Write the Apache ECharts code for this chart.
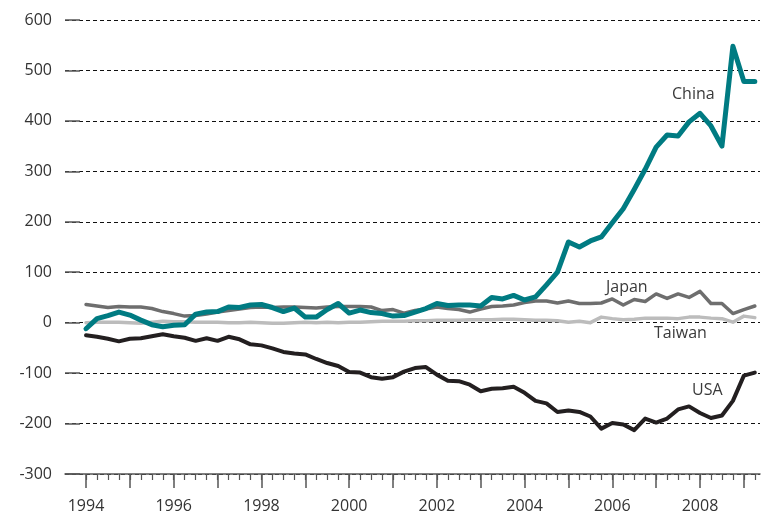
<!DOCTYPE html>
<html>
<head>
<meta charset="utf-8">
<script src="https://cdn.jsdelivr.net/npm/echarts@6/dist/echarts.min.js"></script>
<style>
  html, body { margin: 0; padding: 0; background: #fff; }
  #chart { width: 770px; height: 518px; }
</style>
</head>
<body>
<div id="chart"></div>
<script>
// quarterly, 1994 Q1 .. 2009 Q2
const startYear = 1994;

const china = [-12, 8, 14, 21, 15, 5, -4, -8, -5, -4, 17, 21, 22, 31, 30, 35,
    36, 30, 22, 29, 11, 11, 26, 38, 19, 25, 20, 18, 13, 14, 21, 28,
    38, 34, 35, 35, 33, 50, 47, 54, 45, 51, 75, 100, 160, 150, 162, 170,
    198, 226, 264, 304, 348, 372, 370, 398, 415, 390, 350, 548, 478, 478];

const japan = [36, 33, 30, 32, 31, 31, 28, 22, 18, 13, 14, 17, 21, 24, 27, 30,
    31, 30, 31, 31, 30, 29, 31, 32, 32, 32, 31, 24, 26, 19, 24, 27,
    31, 28, 26, 21, 27, 32, 33, 35, 40, 43, 43, 39, 43, 38, 38, 39,
    47, 35, 46, 42, 57, 48, 57, 50, 62, 38, 38, 18, 26, 33];

const taiwan = [0, 1, 1, 1, 0, -1, 1, 3, 2, 2, 1, 1, 1, 0, 0, 1,
    0, -1, -1, 0, 1, 0, 1, 0, 1, 1, 2, 3, 3, 3, 4, 4,
    5, 5, 5, 6, 6, 6, 7, 7, 6, 5, 5, 4, 1, 3, 0, 11,
    8, 6, 7, 9, 9, 9, 8, 11, 11, 9, 8, 1, 13, 10];

const usa = [-25, -28, -32, -37, -32, -31, -27, -23, -27, -30, -36, -31, -36, -28, -33, -43,
    -45, -51, -58, -61, -63, -72, -80, -86, -98, -99, -108, -111, -108, -97, -90, -88,
    -103, -115, -116, -123, -136, -131, -130, -127, -139, -155, -160, -177, -174, -177, -186, -210,
    -199, -202, -213, -190, -198, -190, -172, -166, -179, -189, -184, -155, -105, -99];

const yearTicks = [1994, 1995, 1996, 1997, 1998, 1999, 2000, 2001, 2002, 2003, 2004, 2005, 2006, 2007, 2008, 2009];
const yearLabels = [1994, 1996, 1998, 2000, 2002, 2004, 2006, 2008];

const quarterTicks = [];
for (let y = 1994; y <= 2009; y++) {
    for (let q = 0; q < 4; q++) {
        const v = y + q / 4;
        if (v <= 2009.25) quarterTicks.push(v);
    }
}

const pairs = (vals) => vals.map((v, i) => [startYear + i / 4, v]);

const font = "'Open Sans', 'DejaVu Sans', sans-serif";
const xMin = 1993.521, xMax = 2009.368;

const chart = echarts.init(document.getElementById('chart'));

const seriesLine = (name, data, color, width, z) => ({
    name: name,
    type: 'line',
    data: pairs(data),
    showSymbol: false,
    symbol: 'none',
    z: z,
    lineStyle: { color: color, width: width, join: 'round', cap: 'round' },
    emphasis: { disabled: true }
});

const options = {
    animation: false,
    grid: { left: 65, right: 10, top: 20, bottom: 44 },
    xAxis: [
        {
            type: 'value',
            position: 'bottom',
            min: xMin,
            max: xMax,
            z: 10,
            axisLine: { show: true, onZero: false, lineStyle: { color: '#555', width: 1.5 } },
            axisTick: { show: true, length: 14, customValues: yearTicks, lineStyle: { color: '#555', width: 1.5 } },
            axisLabel: {
                customValues: yearLabels,
                margin: 24,
                color: '#333',
                fontSize: 16,
                fontFamily: font,
                formatter: (v) => String(Math.round(v))
            },
            splitLine: { show: false }
        },
        {
            type: 'value',
            position: 'bottom',
            min: xMin,
            max: xMax,
            z: 10,
            axisLine: { show: false, onZero: false },
            axisTick: { show: true, length: 6, customValues: quarterTicks, lineStyle: { color: '#555', width: 1.2 } },
            axisLabel: { show: false },
            splitLine: { show: false }
        }
    ],
    yAxis: {
        type: 'value',
        min: -300,
        max: 600,
        interval: 100,
        axisLine: { show: false },
        axisTick: { show: true, inside: true, length: 15, lineStyle: { color: '#555', width: 1.5 } },
        axisLabel: { color: '#333', fontSize: 16, fontFamily: font, margin: 13 },
        splitLine: { show: true, lineStyle: { color: '#111', width: 1, type: [4, 3] } }
    },
    series: [
        seriesLine('Taiwan', taiwan, '#bcbcbc', 3.5, 2),
        seriesLine('Japan', japan, '#6e6e6e', 3.5, 3),
        seriesLine('USA', usa, '#231f20', 4, 4),
        seriesLine('China', china, '#007b82', 5, 5)
    ],
    graphic: [
        { type: 'text', left: 672, top: 86, style: { text: 'China', fill: '#3a3a3a', font: '16px ' + font } },
        { type: 'text', left: 606, top: 279, style: { text: 'Japan', fill: '#3a3a3a', font: '16px ' + font } },
        { type: 'text', left: 654, top: 325, style: { text: 'Taiwan', fill: '#3a3a3a', font: '16px ' + font } },
        { type: 'text', left: 692, top: 382, style: { text: 'USA', fill: '#3a3a3a', font: '16px ' + font } }
    ]
};

chart.setOption(options);
</script>
</body>
</html>
